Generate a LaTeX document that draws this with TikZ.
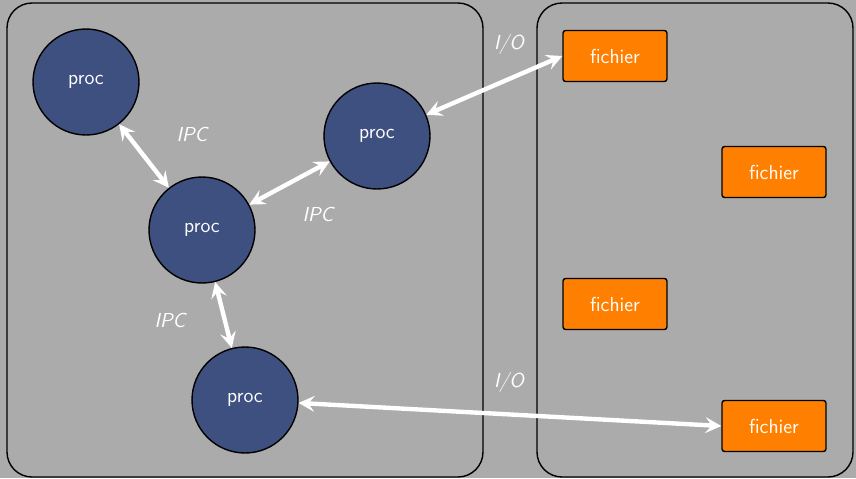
\documentclass[tikz,border=0pt]{standalone}
\usepackage{fontspec}
\usepackage{tikz}
\usetikzlibrary{arrows.meta}
\definecolor{fond}{HTML}{ABABAB}
\definecolor{bleuproc}{HTML}{3E5080}
\definecolor{orangefic}{HTML}{FF8000}
\begin{document}
\begin{tikzpicture}[x=0.02cm,y=-0.02cm,font=\sffamily\fontsize{11.5}{13}\selectfont]
\tikzstyle{proc}=[circle,draw=black,line width=0.8pt,fill=bleuproc,text=white,minimum size=2.12cm,inner sep=0]
\tikzstyle{fichier}=[rectangle,rounded corners=1.5pt,draw=black,line width=0.8pt,fill=orangefic,text=white,minimum width=2.08cm,minimum height=1.02cm]
\tikzstyle{zone}=[draw=black,line width=0.8pt,rounded corners=0.5cm]
\tikzstyle{lien}=[{Stealth[length=9pt,width=9pt,inset=3.5pt]}-{Stealth[length=9pt,width=9pt,inset=3.5pt]},white,line width=2.5pt]
\tikzstyle{etiq}=[text=white,font=\sffamily\itshape\fontsize{11.5}{13}\selectfont]
\fill[fond] (0,0) rectangle (856,478);
\useasboundingbox (0,0) rectangle (856,478);
\draw[zone] (7,3) rectangle (483,477);
\draw[zone] (537,3) rectangle (853,477);
\foreach \n/\x/\y in {p1/86/82,p2/377/136,p3/202/230,p4/245/400}{
\node[proc] (\n) at (\x,\y) {proc};
};
\foreach \n/\x/\y in {f1/615/56,f2/774/172,f3/615/304,f4/774/426}{
\node[fichier] (\n) at (\x,\y) {fichier};
};
\foreach \a/\b in {p1/p3,p3/p2,p3/p4}{
\draw[lien] (\a) -- (\b);
}
\draw[lien] (p2) -- (f1.west);
\draw[lien] (p4) -- (f4.west);
\foreach \n/\x/\y/\t in {ipc1/192/134/IPC,ipc2/318/214/IPC,ipc3/170/320/IPC,io1/509/44/I\slash O,io2/509/382/I\slash O}{
\node[etiq] (\n) at (\x,\y) {\t};
}
\end{tikzpicture}
\end{document}
